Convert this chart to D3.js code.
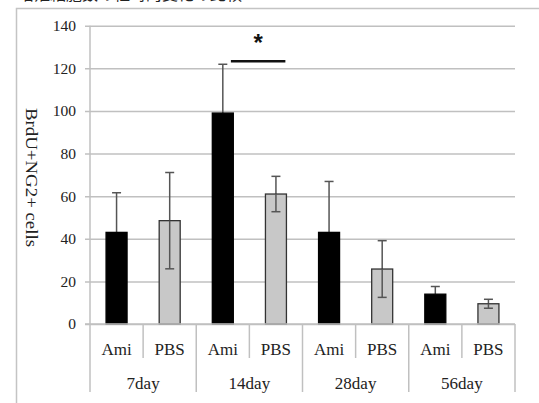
<!DOCTYPE html>
<html><head><meta charset="utf-8">
<script src="https://cdn.jsdelivr.net/npm/d3@7/dist/d3.min.js"></script>
<style>body{margin:0;background:#fff}svg{display:block}text{font-family:"Liberation Serif","Times New Roman",serif}</style>
</head><body>
<script>
const days = ["7day", "14day", "28day", "56day"];
const groups = ["Ami", "PBS"];
const amiValues = [43, 99, 43, 14];
const amiErrors = [18.6, 22.9, 23.9, 3.6];
const pbsValues = [48.5, 61, 25.8, 9.5];
const pbsErrors = [22.6, 8.3, 13.3, 2.1];
const yTicks = [0, 20, 40, 60, 80, 100, 120, 140];
const yLabel = "BrdU+NG2+ cells";
const titleText = "増殖細胞数の経時的変化の比較";

const W = 539, H = 403;
const svg = d3.select("body").append("svg").attr("width", W).attr("height", H);
const serif = "Liberation Serif, Times New Roman, serif";

// clipped title at top (only the bottom of the glyphs is visible)
svg.append("text").attr("x", 18).attr("y", 0)
  .style("font-family", "Noto Sans CJK JP, sans-serif").attr("font-size", 16)
  .attr("fill", "#222").text(titleText);

// frame
svg.append("path").attr("d", `M16.5,${H} V8.5 H${W}`)
  .attr("fill", "none").attr("stroke", "#c4c4c4").attr("stroke-width", 1.5);

const x0 = 90, x1 = 515, yTop = 25.7, yBase = 324;
const y = d3.scaleLinear().domain([0, 140]).range([yBase, yTop]);
const rows = [];
days.forEach((d, i) => {
  rows.push({day: d, g: groups[0], v: amiValues[i], e: amiErrors[i]});
  rows.push({day: d, g: groups[1], v: pbsValues[i], e: pbsErrors[i]});
});
const keys = rows.map((r, i) => i);
const xs = d3.scaleBand().domain(keys).range([x0, x1]);
const xg = d3.scaleBand().domain(days).range([x0, x1]);

// gridlines + y ticks
const yAxis = d3.axisLeft(y).tickValues(yTicks).tickSize(-(x1 - x0 + 5)).tickSizeOuter(0).tickPadding(14);
const ga = svg.append("g").attr("transform", `translate(${x0},0)`).call(yAxis);
ga.select(".domain").remove();
ga.selectAll(".tick line").attr("stroke", "#c0c0c0").attr("stroke-width", 1.5).attr("x1", -5).attr("x2", x1 - x0);
ga.selectAll(".tick text").style("font-family", serif).attr("font-size", 15.5).attr("fill", "#222");

// y axis line
svg.append("line").attr("x1", x0).attr("x2", x0).attr("y1", yTop).attr("y2", 392)
  .attr("stroke", "#c0c0c0").attr("stroke-width", 1.5);

// category dividers
keys.forEach(k => {
  if (k === 0) return;
  const xx = xs(k);
  const long = k % 2 === 0;
  svg.append("line").attr("x1", xx).attr("x2", xx).attr("y1", yBase).attr("y2", long ? 392 : 358)
    .attr("stroke", "#c0c0c0").attr("stroke-width", 1.5);
});
svg.append("line").attr("x1", x1).attr("x2", x1).attr("y1", yBase).attr("y2", 392)
  .attr("stroke", "#c0c0c0").attr("stroke-width", 1.5);

// bars
const bw = 21;
rows.forEach((r, i) => {
  const cx = xs(i) + xs.bandwidth() / 2;
  const isAmi = r.g === "Ami";
  const eTop = y(r.v + r.e), eBot = isAmi ? y(r.v) : y(r.v - r.e);
  svg.append("line").attr("x1", cx).attr("x2", cx).attr("y1", eTop).attr("y2", y(r.v))
    .attr("stroke", "#555").attr("stroke-width", 1.5);
  svg.append("rect").attr("x", cx - bw / 2).attr("y", y(r.v)).attr("width", bw).attr("height", yBase - y(r.v))
    .attr("fill", isAmi ? "#000" : "#c8c8c8").attr("stroke", isAmi ? "#000" : "#333").attr("stroke-width", 1.3);
  const caps = isAmi ? [eTop] : [eTop, eBot];
  if (!isAmi) svg.append("line").attr("x1", cx).attr("x2", cx).attr("y1", y(r.v)).attr("y2", eBot)
    .attr("stroke", "#555").attr("stroke-width", 1.5);
  caps.forEach(cy => svg.append("line").attr("x1", cx - 4.5).attr("x2", cx + 4.5).attr("y1", cy).attr("y2", cy)
    .attr("stroke", "#555").attr("stroke-width", 1.5));
  svg.append("text").attr("x", cx).attr("y", 355).attr("text-anchor", "middle")
    .style("font-family", serif).attr("font-size", 17).attr("fill", "#222").text(r.g);
});

// x axis baseline
svg.append("line").attr("x1", x0 - 5).attr("x2", x1).attr("y1", yBase).attr("y2", yBase)
  .attr("stroke", "#c0c0c0").attr("stroke-width", 1.5);

days.forEach(d => {
  svg.append("text").attr("x", xg(d) + xg.bandwidth() / 2).attr("y", 389).attr("text-anchor", "middle")
    .style("font-family", serif).attr("font-size", 17).attr("fill", "#222").text(d);
});

// y label
svg.append("text").attr("transform", `translate(26,177.5) rotate(90)`).attr("text-anchor", "middle")
  .style("font-family", serif).attr("font-size", 16).attr("fill", "#222")
  .attr("textLength", 139).attr("lengthAdjust", "spacingAndGlyphs").text(yLabel);

// significance
const sx1 = xs(3) - 18.5, sx2 = xs(3) + 36;
svg.append("line").attr("x1", sx1).attr("x2", sx2).attr("y1", 61.3).attr("y2", 61.3)
  .attr("stroke", "#111").attr("stroke-width", 2.5);
svg.append("text").attr("x", (sx1 + sx2) / 2).attr("y", 51).attr("text-anchor", "middle")
  .style("font-family", "Liberation Sans, Arial, sans-serif").attr("font-weight", "bold").attr("font-size", 24)
  .attr("fill", "#111").text("*");
</script>
</body></html>
